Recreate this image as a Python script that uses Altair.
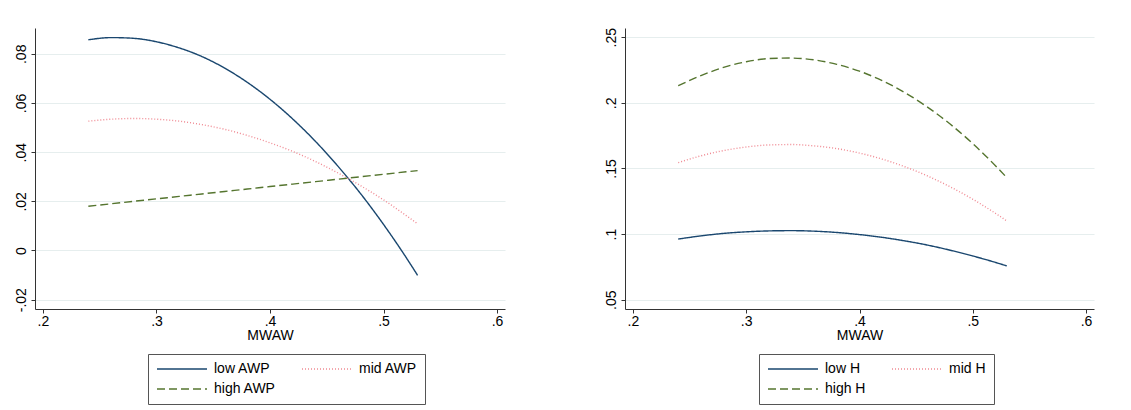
import altair as alt
import pandas as pd

# ---- data ----
mwaw = [0.24, 0.26, 0.28, 0.30, 0.32, 0.34, 0.36, 0.38, 0.40, 0.42, 0.44, 0.46, 0.48, 0.50, 0.52, 0.53]

low_awp = [0.0857, 0.0866, 0.0863, 0.0849, 0.0824, 0.0789, 0.0742, 0.0684, 0.0615, 0.0535,
           0.0444, 0.0342, 0.0230, 0.0106, -0.0029, -0.0101]
mid_awp = [0.0526, 0.0534, 0.0537, 0.0534, 0.0526, 0.0512, 0.0493, 0.0468, 0.0438, 0.0403,
           0.0362, 0.0315, 0.0263, 0.0206, 0.0142, 0.0109]
high_awp = [0.0180, 0.0190, 0.0200, 0.0210, 0.0220, 0.0230, 0.0240, 0.0250, 0.0260, 0.0270,
            0.0280, 0.0290, 0.0300, 0.0310, 0.0320, 0.0325]

low_h = [0.0962, 0.0986, 0.1005, 0.1017, 0.1024, 0.1026, 0.1022, 0.1012, 0.0996, 0.0975,
         0.0948, 0.0916, 0.0877, 0.0833, 0.0784, 0.0757]
mid_h = [0.1544, 0.1596, 0.1636, 0.1663, 0.1679, 0.1682, 0.1672, 0.1651, 0.1617, 0.1571,
         0.1513, 0.1443, 0.1360, 0.1265, 0.1158, 0.1100]
high_h = [0.2130, 0.2207, 0.2270, 0.2313, 0.2337, 0.2341, 0.2327, 0.2293, 0.2241, 0.2169,
          0.2078, 0.1967, 0.1838, 0.1689, 0.1521, 0.1430]

left_series = ["low AWP", "mid AWP", "high AWP"]
right_series = ["low H", "mid H", "high H"]

x_ticks = [0.2, 0.3, 0.4, 0.5, 0.6]
left_y_ticks = [-0.02, 0, 0.02, 0.04, 0.06, 0.08]
right_y_ticks = [0.05, 0.1, 0.15, 0.2, 0.25]

# ---- styling ----
colors = ["#1a476f", "#f08a93", "#55752f"]
dashes = [[1, 0], [1, 2], [8, 4]]
FONT = "Liberation Sans"
LABEL_EXPR = "replace(replace(format(datum.value, '.2~f'), '0.', '.'), '\u2212', '-')"


def long_table(series_names, values_lists):
    rows = []
    for name, vals in zip(series_names, values_lists):
        for xv, yv in zip(mwaw, vals):
            rows.append({"MWAW": xv, "value": yv, "series": name})
    return pd.DataFrame(rows)


def make_legend(lx, ly):
    return alt.Legend(
        title=None, orient="none", legendX=lx, legendY=ly, columns=2, direction="horizontal",
        symbolType="M-5,0H5", symbolSize=100, symbolStrokeWidth=1.4, symbolOffset=19,
        labelFont=FONT, labelFontSize=14, labelColor="black", labelOffset=25,
        columnPadding=23, rowPadding=6, padding=8,
        strokeColor="#555555", fillColor="white",
    )


def panel(df, series, yticks, ydomain, lx, ly, width):
    legend = make_legend(lx, ly)
    return alt.Chart(df).mark_line(strokeWidth=1.4, interpolate="monotone").encode(
        x=alt.X("MWAW:Q",
                scale=alt.Scale(domain=[0.193, 0.607], nice=False, zero=False),
                axis=alt.Axis(values=x_ticks, title="MWAW", grid=False, labelExpr=LABEL_EXPR,
                              labelFlush=False, labelOverlap=False, labelPadding=1,
                              titlePadding=0)),
        y=alt.Y("value:Q",
                scale=alt.Scale(domain=ydomain, nice=False, zero=False),
                axis=alt.Axis(values=yticks, title=None, grid=True, labelExpr=LABEL_EXPR,
                              labelAngle=270, labelAlign="center", labelBaseline="alphabetic",
                              labelPadding=6, labelFlush=False, labelOverlap=False)),
        color=alt.Color("series:N", scale=alt.Scale(domain=series, range=colors), legend=legend),
        strokeDash=alt.StrokeDash("series:N", scale=alt.Scale(domain=series, range=dashes),
                                  legend=legend),
    ).properties(width=width, height=281)


left_df = long_table(left_series, [low_awp, mid_awp, high_awp])
right_df = long_table(right_series, [low_h, mid_h, high_h])

left = panel(left_df, left_series, left_y_ticks, [-0.0238, 0.0905], 113, 326, 470)
right = panel(right_df, right_series, right_y_ticks, [0.0429, 0.257], 134, 326, 469)

chart = alt.hconcat(left, right, spacing=98).resolve_scale(
    color="independent", strokeDash="independent", y="independent", x="independent"
).properties(
    padding={"left": 5, "top": 19, "right": 5, "bottom": 5}
).configure_view(stroke=None).configure_axis(
    domainColor="#333333", tickColor="#333333", domainWidth=1, tickWidth=1, tickSize=4,
    labelFont=FONT, labelFontSize=14, labelColor="black",
    titleFont=FONT, titleFontSize=14, titleFontWeight="normal", titleColor="black",
    gridColor="#e6eeee", gridWidth=1.2,
)

chart.save("out.html", embed_options={"renderer": "svg", "actions": False})
